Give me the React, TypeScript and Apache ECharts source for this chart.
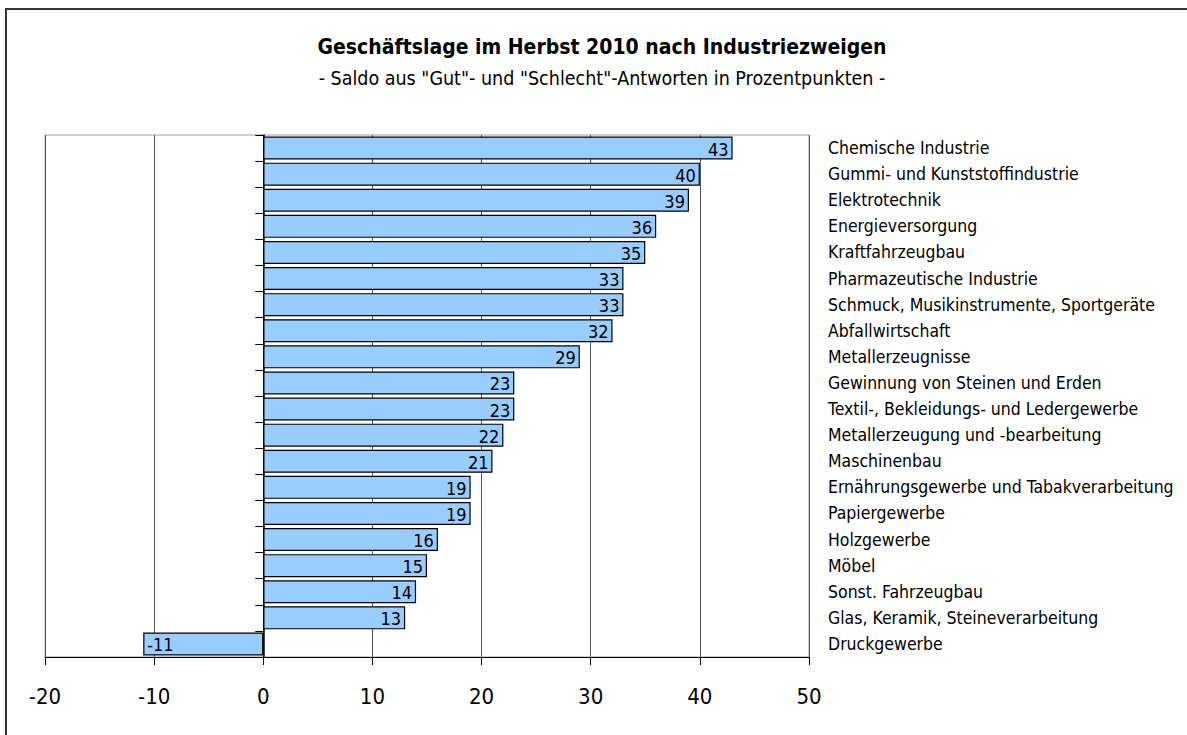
import React, { useEffect, useRef } from "react";
import * as echarts from "echarts";

const categories = [
  "Chemische Industrie",
  "Gummi- und Kunststoffindustrie",
  "Elektrotechnik",
  "Energieversorgung",
  "Kraftfahrzeugbau",
  "Pharmazeutische Industrie",
  "Schmuck, Musikinstrumente, Sportgeräte",
  "Abfallwirtschaft",
  "Metallerzeugnisse",
  "Gewinnung von Steinen und Erden",
  "Textil-, Bekleidungs- und Ledergewerbe",
  "Metallerzeugung und -bearbeitung",
  "Maschinenbau",
  "Ernährungsgewerbe und Tabakverarbeitung",
  "Papiergewerbe",
  "Holzgewerbe",
  "Möbel",
  "Sonst. Fahrzeugbau",
  "Glas, Keramik, Steineverarbeitung",
  "Druckgewerbe",
];
const values = [43, 40, 39, 36, 35, 33, 33, 32, 29, 23, 23, 22, 21, 19, 19, 16, 15, 14, 13, -11];

const titleText = "Geschäftslage im Herbst 2010 nach Industriezweigen";
const subtitleText = '- Saldo aus "Gut"- und "Schlecht"-Antworten in Prozentpunkten -';

const FONT = "'DejaVu Sans Condensed', 'DejaVu Sans', sans-serif";

export default function App() {
  const ref = useRef<HTMLDivElement>(null);
  useEffect(() => {
    if (!ref.current) return;
    const chart = echarts.init(ref.current, null, { renderer: "svg" });
    chart.setOption({
      animation: false,
      backgroundColor: "#ffffff",
      textStyle: { fontFamily: FONT },
      title: {
        text: titleText,
        subtext: subtitleText,
        left: 597,
        textAlign: "center",
        top: 31,
        itemGap: 11,
        textStyle: { fontFamily: FONT, fontSize: 21, fontWeight: "bold", color: "#000" },
        subtextStyle: { fontFamily: FONT, fontSize: 19.5, color: "#000" },
      },
      graphic: [
        {
          type: "polyline",
          shape: { points: [[6, 740], [6, 9], [1200, 9]] },
          style: { stroke: "#333", lineWidth: 2, fill: null },
        },
      ],
      grid: {
        left: 45,
        right: 378,
        top: 135,
        bottom: 78,
        show: true,
        borderColor: "#a0a0a0",
        borderWidth: 1,
        containLabel: false,
      },
      xAxis: {
        type: "value",
        min: -20,
        max: 50,
        interval: 10,
        axisLine: { show: true, onZero: false, lineStyle: { color: "#000", width: 1 } },
        axisTick: { show: true, length: 8, lineStyle: { color: "#000" } },
        axisLabel: { fontFamily: FONT, fontSize: 22, color: "#000", margin: 28 },
        splitLine: { show: true, lineStyle: { color: "#555", width: 1 } },
      },
      yAxis: [
        {
          type: "category",
          data: categories,
          inverse: true,
          position: "left",
          axisLine: { show: true, onZero: true, lineStyle: { color: "#000", width: 1.5 } },
          axisTick: { show: true, length: 8, lineStyle: { color: "#000" } },
          axisLabel: { show: false },
          splitLine: { show: false },
        },
        {
          type: "category",
          data: categories,
          inverse: true,
          position: "right",
          axisLine: { show: false },
          axisTick: { show: false },
          axisLabel: {
            show: true,
            fontFamily: FONT,
            fontSize: 17.5,
            color: "#000",
            margin: 19,
            align: "left",
          },
          splitLine: { show: false },
        },
      ],
      series: [
        {
          type: "bar",
          yAxisIndex: 0,
          barCategoryGap: "12%",
          data: values.map((v) => ({
            value: v,
            label: {
              show: true,
              position: v < 0 ? "insideLeft" : "insideRight",
              distance: 4,
              fontFamily: FONT,
              fontSize: 18,
              color: "#000",
              offset: [0, 1],
            },
          })),
          itemStyle: { color: "#99ccff", borderColor: "#000", borderWidth: 1.2 },
        },
      ],
    });
    return () => chart.dispose();
  }, []);
  return (
    <div
      ref={ref}
      style={{ position: "fixed", left: 0, top: 0, width: 1187, height: 735 }}
    />
  );
}
